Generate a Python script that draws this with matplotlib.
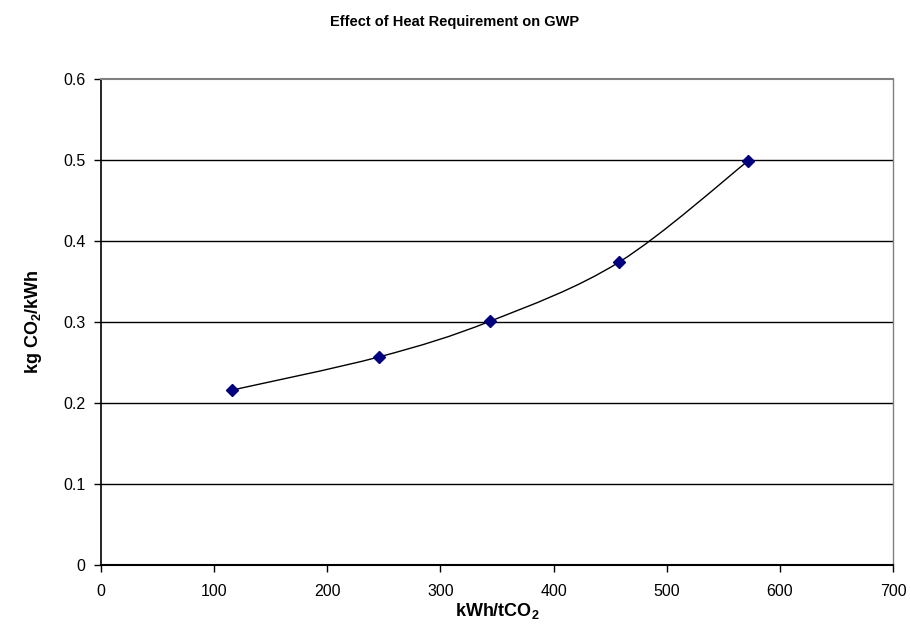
import matplotlib

matplotlib.use("Agg")
import matplotlib.pyplot as plt  # noqa: E402
import numpy as np  # noqa: E402
from matplotlib.path import Path  # noqa: E402
from matplotlib.patches import PathPatch  # noqa: E402

plt.rcParams["font.family"] = ["Liberation Sans", "DejaVu Sans"]
plt.rcParams["mathtext.fontset"] = "custom"
plt.rcParams["mathtext.bf"] = "Liberation Sans:bold"
plt.rcParams["mathtext.rm"] = "Liberation Sans"

# values
heat_kwh_per_t = [116, 246, 344, 458, 572]
gwp_kg_per_kwh = [0.216, 0.257, 0.301, 0.374, 0.499]

x_ticks = [0, 100, 200, 300, 400, 500, 600, 700]
y_ticks = [0, 0.1, 0.2, 0.3, 0.4, 0.5, 0.6]


def _smooth_path(xs, ys):
    """Excel-style smoothed line: cubic Bezier (Catmull-Rom control points)."""
    pts = np.column_stack([xs, ys]).astype(float)
    n = len(pts)
    verts = [pts[0]]
    codes = [Path.MOVETO]
    for i in range(n - 1):
        p0 = pts[i - 1] if i > 0 else pts[i]
        p1 = pts[i]
        p2 = pts[i + 1]
        p3 = pts[i + 2] if i + 2 < n else pts[i + 1]
        c1 = p1 + (p2 - p0) / 6.0
        c2 = p2 - (p3 - p1) / 6.0
        verts += [c1, c2, p2]
        codes += [Path.CURVE4] * 3
    return Path(verts, codes)


fig = plt.figure(figsize=(9.1, 6.36), dpi=100)
ax = fig.add_axes([101 / 910, 1 - 565 / 636, 792 / 910, 486 / 636])

for y in y_ticks[1:-1]:
    ax.axhline(y, color="black", lw=1.0, zorder=1)

ax.add_patch(PathPatch(_smooth_path(heat_kwh_per_t, gwp_kg_per_kwh),
                       facecolor="none", edgecolor="black", lw=1.0, zorder=2))
ax.plot(heat_kwh_per_t, gwp_kg_per_kwh, ls="none", marker="D", ms=6,
        color="#000080", zorder=3)

ax.set_xlim(0, 700)
ax.set_ylim(0, 0.6)
ax.set_xticks(x_ticks)
ax.set_yticks(y_ticks)
ax.set_yticklabels(["0", "0.1", "0.2", "0.3", "0.4", "0.5", "0.6"])
ax.tick_params(direction="out", length=5, width=1, labelsize=11.5)
ax.tick_params(axis="x", pad=9)
ax.tick_params(axis="y", pad=6)

ax.spines["left"].set_color("black")
ax.spines["bottom"].set_color("black")
ax.spines["left"].set_linewidth(1.2)
ax.spines["bottom"].set_linewidth(1.5)
ax.spines["top"].set_color("#808080")
ax.spines["right"].set_color("#808080")
ax.spines["top"].set_linewidth(1.5)
ax.spines["right"].set_linewidth(1.0)

ax.set_xlabel("kWh/tCO$_\\mathbf{2}$", fontsize=13, fontweight="bold", labelpad=1)
ax.set_ylabel("kg CO$_\\mathbf{2}$/kWh", fontsize=13, fontweight="bold", labelpad=14)
fig.text(0.5, 1 - 22 / 636, "Effect of Heat Requirement on GWP",
         ha="center", va="center", fontsize=10.5, fontweight="bold")

fig.savefig("out.png", dpi=100)
